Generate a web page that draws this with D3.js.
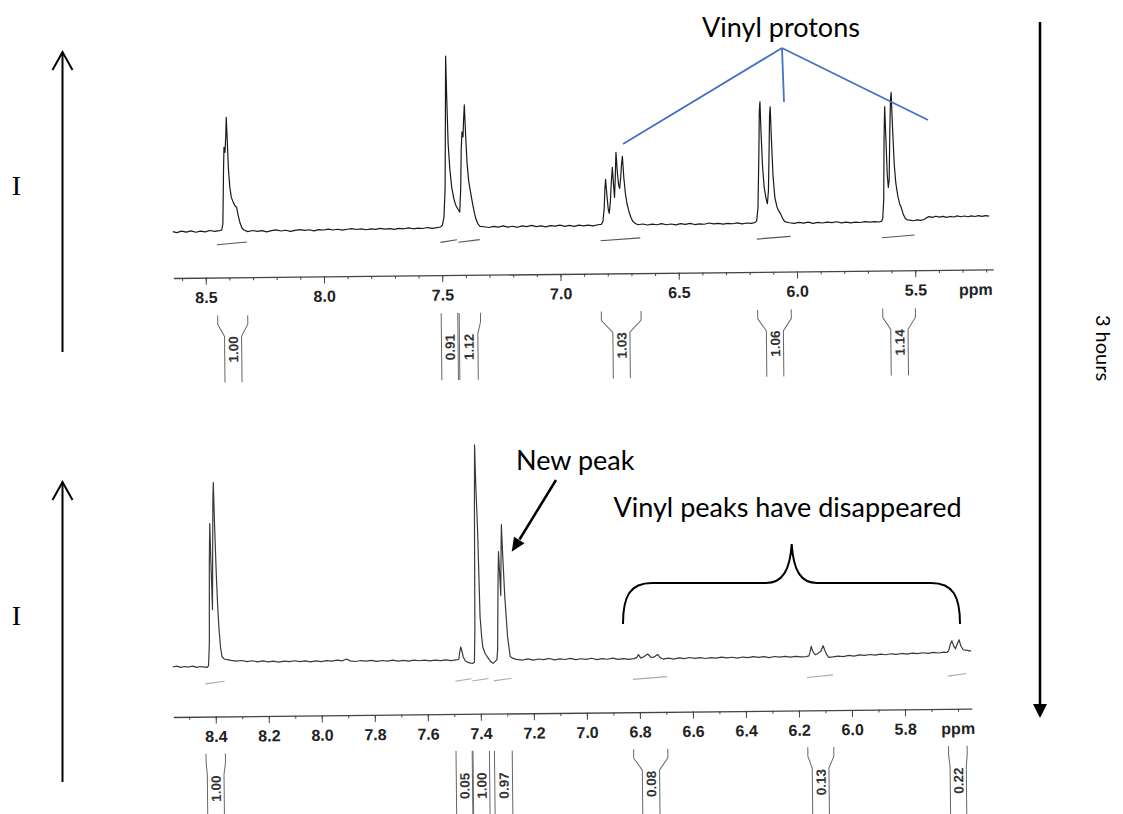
<!DOCTYPE html>
<html lang="en">
<head>
<meta charset="UTF-8">
<title>1H NMR before and after 3 hours</title>
<script src="https://d3js.org/d3.v7.min.js"></script>
<style>
  body { margin: 0; background: #fff; }
  svg { display: block; }
  .trace { fill: none; stroke-linejoin: round; }
  .axis path, .axis line { stroke: #444; }
  .axis text { font-family: "Liberation Sans", Arial, sans-serif; font-weight: bold; font-size: 16px; fill: #222; }
  .box { fill: none; stroke: #666; stroke-width: 1; }
  .boxlabel { font-family: "Liberation Sans", Arial, sans-serif; font-weight: bold; font-size: 13.5px; fill: #333; }
  .note { font-family: Lato, "Open Sans", sans-serif; fill: #000; }
</style>
</head>
<body>
<svg id="chart" width="1123" height="814"></svg>
<script>
// ---- spectrum before (ppm, intensity) ----
const topTrace = [
  [8.637,0.4],[8.62,-0.6],[8.60,0.8],[8.58,-0.3],[8.56,1.0],[8.54,-0.5],[8.52,0.6],[8.50,-0.2],[8.48,1.1],[8.46,0.2],[8.44,0.9],[8.43,1.5],
  [8.425,8],[8.42,60],[8.417,84],[8.413,79],[8.409,95],[8.406,114],[8.403,92],[8.399,62],[8.394,44],[8.388,34],[8.380,29],[8.372,25],[8.366,24],[8.360,16],[8.352,8],[8.344,3],[8.336,1.2],
  [8.32,-0.4],[8.30,0.7],[8.28,-0.2],[8.26,0.5],[8.24,-0.8],[8.22,0.4],[8.20,1.0],[8.18,-0.1],[8.16,0.6],[8.14,-0.6],[8.12,0.3],[8.10,1.1],[8.08,0.2],[8.06,0.8],[8.04,-0.3],[8.02,0.9],[8.00,0.4],[7.98,1.3],[7.96,0.3],[7.94,1.0],[7.92,0.1],[7.90,0.9],[7.88,1.5],[7.86,0.6],[7.84,1.2],[7.82,0.2],[7.80,1.0],[7.78,0.5],[7.76,1.4],[7.74,0.6],[7.72,1.1],[7.70,0.3],[7.68,1.2],[7.66,0.8],[7.64,1.6],[7.62,0.7],[7.60,1.3],[7.58,0.9],[7.56,1.8],[7.54,1.0],[7.52,1.6],[7.505,2.2],
  [7.497,4],[7.490,12],[7.484,40],[7.479,120],[7.476,173],[7.473,130],[7.469,85],[7.463,60],[7.456,42],[7.448,31],[7.440,24],[7.431,20],[7.423,17],[7.418,40],[7.414,80],[7.410,97],[7.406,92],[7.403,108],[7.399,124],[7.395,95],[7.390,66],[7.384,48],[7.376,36],[7.369,26],[7.362,17],[7.355,10],[7.347,5],[7.338,2.5],
  [7.32,2.0],[7.30,1.2],[7.28,2.3],[7.26,1.5],[7.24,2.6],[7.22,1.4],[7.20,2.2],[7.18,1.1],[7.16,2.4],[7.14,1.7],[7.12,2.8],[7.10,1.6],[7.08,2.3],[7.06,1.3],[7.04,2.5],[7.02,1.8],[7.00,2.9],[6.98,1.6],[6.96,2.4],[6.94,1.5],[6.92,2.7],[6.90,1.9],[6.88,2.6],[6.86,1.7],[6.84,2.8],[6.825,3.2],
  [6.818,6],[6.812,20],[6.808,40],[6.805,48],[6.801,35],[6.795,18],[6.791,14],[6.786,25],[6.781,45],[6.776,60],[6.772,44],[6.768,30],[6.764,50],[6.760,75],[6.755,55],[6.750,42],[6.746,39],[6.741,50],[6.737,63],[6.733,71],[6.728,50],[6.722,34],[6.716,24],[6.708,16],[6.700,10],[6.692,6],[6.683,4],
  [6.67,2.4],[6.65,3.1],[6.63,2.0],[6.61,2.9],[6.59,2.2],[6.57,3.3],[6.55,2.1],[6.53,2.8],[6.51,1.9],[6.49,3.0],[6.47,2.3],[6.45,3.2],[6.43,2.0],[6.41,2.7],[6.39,2.2],[6.37,3.4],[6.35,2.4],[6.33,3.0],[6.31,2.1],[6.29,2.9],[6.27,2.4],[6.25,3.3],[6.23,2.2],[6.21,3.0],[6.19,2.5],[6.175,3.4],
  [6.168,5],[6.162,18],[6.156,70],[6.152,115],[6.149,124],[6.146,95],[6.141,60],[6.135,39],[6.128,28],[6.122,22],[6.117,35],[6.112,80],[6.109,110],[6.106,119],[6.102,85],[6.097,50],[6.090,28],[6.082,19],[6.075,15],[6.067,12],[6.058,7],[6.049,4],
  [6.03,2.8],[6.01,2.1],[5.99,3.0],[5.97,2.3],[5.95,3.2],[5.93,2.0],[5.91,2.8],[5.89,2.2],[5.87,3.1],[5.85,2.4],[5.83,3.3],[5.81,2.2],[5.79,2.9],[5.77,2.0],[5.75,2.7],[5.73,2.3],[5.71,3.2],[5.69,2.5],[5.67,3.0],[5.65,2.6],[5.64,3.4],
  [5.635,6],[5.630,25],[5.626,85],[5.622,118],[5.618,85],[5.614,50],[5.610,37],[5.606,45],[5.601,95],[5.597,125],[5.594,132],[5.590,100],[5.584,60],[5.578,41],[5.570,28],[5.562,20],[5.557,17.5],[5.548,10],[5.540,6],[5.532,4.5],
  [5.52,4.2],[5.505,3.5],[5.49,4.4],[5.475,3.8],[5.46,4.6],[5.448,6.5],[5.44,7.5],[5.425,6.7],[5.41,7.8],[5.395,6.9],[5.38,7.6],[5.365,6.5],[5.35,7.4],[5.335,6.8],[5.32,7.9],[5.305,7.0],[5.29,7.7],[5.275,6.9],[5.26,7.8],[5.245,7.1],[5.23,8.0],[5.215,7.2],[5.20,7.9],[5.185,7.3]
];

// ---- spectrum after 3 hours (ppm, intensity) ----
const botTrace = [
  [8.56,-4],[8.545,-3.2],[8.53,-4.5],[8.515,-3.6],[8.50,-4.2],[8.485,-3.3],[8.47,-4.6],[8.455,-3.8],[8.44,-4.4],[8.43,-4.8],[8.425,-3],
  [8.421,20],[8.418,100],[8.415,139],[8.412,100],[8.408,53],[8.405,110],[8.402,165],[8.400,180],[8.397,140],[8.392,86],[8.388,55],[8.384,33],[8.379,15],[8.374,6],[8.366,3.5],[8.358,3],
  [8.34,2.0],[8.32,1.2],[8.30,1.8],[8.28,0.6],[8.26,1.4],[8.24,0.3],[8.22,1.1],[8.20,0.2],[8.18,0.9],[8.16,-0.2],[8.14,0.7],[8.12,0.1],[8.10,1.0],[8.08,0.0],[8.06,0.8],[8.04,-0.3],[8.02,0.6],[8.00,-0.1],[7.98,0.7],[7.96,0.2],[7.94,1.1],[7.92,0.4],[7.905,2.2],[7.89,0.3],[7.87,-0.4],[7.85,0.5],[7.83,-0.2],[7.81,0.6],[7.79,-0.5],[7.77,0.3],[7.75,-0.3],[7.73,0.5],[7.71,-0.4],[7.69,0.2],[7.67,-0.6],[7.65,0.4],[7.63,-0.3],[7.61,0.3],[7.59,-0.5],[7.57,0.2],[7.55,-0.4],[7.53,0.3],[7.51,-0.6],[7.49,0.2],
  [7.481,0.5],[7.477,8],[7.473,13],[7.469,9],[7.464,3],[7.456,-1],[7.446,-2.5],[7.436,-3.2],[7.428,-3.5],[7.422,-2.5],
  [7.419,30],[7.416,150],[7.413,215],[7.410,175],[7.405,130],[7.399,43],[7.394,24],[7.390,13],[7.381,6],[7.371,2],[7.362,-1.5],[7.352,-3.6],[7.344,-2],[7.337,0],
  [7.334,10],[7.330,75],[7.327,108],[7.324,90],[7.320,64],[7.317,110],[7.315,135],[7.312,110],[7.305,63],[7.296,23],[7.287,3],[7.276,1],[7.264,0],
  [7.24,-0.7],[7.22,0.4],[7.20,-0.9],[7.18,0.2],[7.16,-0.5],[7.14,0.6],[7.12,-0.8],[7.10,0.1],[7.08,-0.6],[7.06,0.5],[7.04,-0.9],[7.02,0.0],[7.00,-0.7],[6.98,0.4],[6.96,-1.0],[6.94,-0.1],[6.92,-0.8],[6.90,0.2],[6.88,-1.1],[6.86,-0.3],[6.84,-1.2],[6.82,-0.5],
  [6.81,0.5],[6.803,3.5],[6.795,0.2],[6.785,1.0],[6.768,4.0],[6.755,0.5],[6.745,0.8],[6.731,3.5],[6.72,0.0],[6.71,-1.2],
  [6.69,-0.4],[6.67,-1.3],[6.65,-0.2],[6.63,-1.0],[6.61,0.1],[6.59,-0.9],[6.57,-0.1],[6.55,-1.1],[6.53,-0.3],[6.51,-0.8],[6.49,0.2],[6.47,-0.7],[6.45,-0.1],[6.43,-1.0],[6.41,0.0],[6.39,-0.6],[6.37,0.3],[6.35,-0.5],[6.33,0.1],[6.31,-0.8],[6.29,0.2],[6.27,-0.4],[6.25,0.3],[6.23,-0.6],[6.21,0.1],[6.19,-0.5],[6.17,-0.2],
  [6.16,0.5],[6.155,5],[6.151,10],[6.147,6],[6.14,2.5],[6.135,1.5],[6.128,2.5],[6.115,5],[6.106,10.5],[6.100,6],[6.093,1.5],[6.085,-1.2],
  [6.07,-0.8],[6.05,0.0],[6.03,-0.6],[6.01,0.5],[5.99,-0.2],[5.97,0.9],[5.95,0.3],[5.93,1.2],[5.91,0.5],[5.89,1.4],[5.87,0.8],[5.85,1.7],[5.83,1.0],[5.81,1.9],[5.79,1.2],[5.77,2.1],[5.75,1.5],[5.73,2.4],[5.71,1.8],[5.69,2.6],[5.67,2.0],[5.65,2.8],[5.64,2.4],
  [5.633,4],[5.627,10],[5.620,14],[5.614,9],[5.607,6],[5.600,11],[5.593,15],[5.587,9],[5.578,5],[5.568,4.5],[5.558,4],[5.548,3.5]
];

// ---- integrals: label, outer range, inner (label box) range ----
const topIntLabels = ["1.00", "0.91", "1.12", "1.03", "1.06", "1.14"];
const topIntOuter  = [[8.451, 8.324], [7.506, 7.436], [7.430, 7.340], [6.829, 6.661], [6.168, 6.026], [5.639, 5.501]];
const topIntInner  = [[8.423, 8.351], [7.506, 7.436], [7.430, 7.352], [6.781, 6.709], [6.132, 6.060], [5.606, 5.533]];

const botIntLabels = ["1.00", "0.05", "1.00", "0.97", "0.08", "0.13", "0.22"];
const botIntOuter  = [[8.438, 8.365], [7.495, 7.434], [7.431, 7.369], [7.350, 7.283], [6.825, 6.696], [6.168, 6.070], [5.637, 5.567]];
const botIntInner  = [[8.434, 8.371], [7.495, 7.434], [7.431, 7.369], [7.350, 7.283], [6.793, 6.728], [6.152, 6.089], [5.632, 5.571]];

// ---- axes ----
const topMajor = [8.5, 8.0, 7.5, 7.0, 6.5, 6.0, 5.5];
const botMajor = [8.4, 8.2, 8.0, 7.8, 7.6, 7.4, 7.2, 7.0, 6.8, 6.6, 6.4, 6.2, 6.0, 5.8];

const svg = d3.select("#chart");
svg.append("rect").attr("width", 1123).attr("height", 814).attr("fill", "#fff");

function drawPanel(o) {
  const g = svg.append("g").attr("transform", `rotate(-0.6, ${o.x.range()[0]}, ${o.axisY})`);
  const x = o.x, y = o.y;

  g.append("path").datum(o.trace).attr("class", "trace")
    .attr("stroke", o.color).attr("stroke-width", 1.2)
    .attr("d", d3.line().x(d => x(d[0])).y(d => y(d[1])));

  // integral traces under peaks
  o.outer.forEach(r => {
    g.append("line")
      .attr("x1", x(r[0])).attr("x2", x(r[1]))
      .attr("y1", y(0) + o.intOff + 1.2).attr("y2", y(0) + o.intOff - 1.2)
      .attr("stroke", o.intColor).attr("stroke-width", 1.1);
  });

  // axis
  const minor = d3.range(Math.ceil(x.domain()[1] * 10), Math.floor(x.domain()[0] * 10) + 1).map(v => v / 10);
  g.append("g").attr("class", "axis").attr("transform", `translate(0,${o.axisY})`)
    .call(d3.axisBottom(x).tickValues(minor).tickSize(3).tickSizeOuter(0).tickFormat(""))
    .call(a => a.select(".domain").attr("stroke-width", 1.3));
  g.append("g").attr("class", "axis").attr("transform", `translate(0,${o.axisY})`)
    .call(d3.axisBottom(x).tickValues(o.major).tickSize(7).tickSizeOuter(0).tickPadding(o.pad).tickFormat(d3.format(".1f")))
    .call(a => a.select(".domain").remove());
  g.append("text")
    .attr("x", x(o.ppmAt)).attr("y", o.axisY + 7 + o.pad).attr("dy", "0.71em")
    .attr("text-anchor", "middle")
    .style("font-family", "'Liberation Sans', Arial, sans-serif").style("font-weight", "bold")
    .style("font-size", "16px").attr("fill", "#222").text("ppm");

  // integral boxes
  const t = o.boxTop, b = o.boxBottom;
  o.labels.forEach((lab, i) => {
    const [a0, a1] = o.outer[i].map(x), [b0, b1] = o.inner[i].map(x);
    g.append("path").attr("class", "box")
      .attr("d", `M${a0},${t} L${a0},${t + 9} L${b0},${t + 21} L${b0},${b}`);
    g.append("path").attr("class", "box")
      .attr("d", `M${a1},${t} L${a1},${t + 9} L${b1},${t + 21} L${b1},${b}`);
    g.append("text").attr("class", "boxlabel")
      .attr("transform", `translate(${(b0 + b1) / 2 + 0.5},${o.labelY}) rotate(-90)`)
      .attr("text-anchor", "middle").attr("dominant-baseline", "central")
      .text(lab);
  });
}

drawPanel({
  trace: topTrace, color: "#1a1a1a", intColor: "#555", intOff: 12,
  x: d3.scaleLinear().domain([8.637, 5.17]).range([173.3, 993.3]),
  y: d3.scaleLinear().domain([0, 180]).range([232, 52]),
  axisY: 278, major: topMajor, pad: 7, ppmAt: 5.245,
  labels: topIntLabels, outer: topIntOuter, inner: topIntInner,
  boxTop: 316, boxBottom: 383, labelY: 350
});

drawPanel({
  trace: botTrace, color: "#3a3a3a", intColor: "#aaa", intOff: 20,
  x: d3.scaleLinear().domain([8.56, 5.548]).range([173.3, 971.8]),
  y: d3.scaleLinear().domain([0, 220]).range([663, 443]),
  axisY: 717, major: botMajor, pad: 7, ppmAt: 5.6,
  labels: botIntLabels, outer: botIntOuter, inner: botIntInner,
  boxTop: 754, boxBottom: 830, labelY: 789
});

// ---- annotations ----
const ann = svg.append("g");

// intensity arrows on the left
[0, 430].forEach(dy => {
  ann.append("line").attr("x1", 62.5).attr("x2", 62.5).attr("y1", 352 + dy).attr("y2", 52 + dy)
    .attr("stroke", "#000").attr("stroke-width", 2);
  ann.append("path").attr("d", `M52.5,${70 + dy} L62.5,${52 + dy} L72.5,${70 + dy}`)
    .attr("fill", "none").attr("stroke", "#000").attr("stroke-width", 2);
  ann.append("text").attr("x", 16.5).attr("y", 195 + dy).attr("text-anchor", "middle")
    .style("font-family", "'Liberation Serif', 'Times New Roman', serif").style("font-size", "28px")
    .text("I");
});

// time arrow
ann.append("line").attr("x1", 1040).attr("x2", 1040).attr("y1", 22).attr("y2", 706)
  .attr("stroke", "#000").attr("stroke-width", 2.5);
ann.append("path").attr("d", "M1033,704 L1047,704 L1040,718 Z").attr("fill", "#000");
ann.append("text").attr("class", "note")
  .attr("transform", "translate(1104,348) rotate(90)")
  .attr("text-anchor", "middle").attr("dominant-baseline", "central")
  .style("font-size", "20px").text("3 hours");

// vinyl protons label and pointers
ann.append("text").attr("class", "note").attr("x", 781).attr("y", 37)
  .attr("text-anchor", "middle").style("font-size", "27px").text("Vinyl protons");
[[623, 144], [784, 102], [928, 120]].forEach(p => {
  ann.append("line").attr("x1", 782).attr("y1", 48).attr("x2", p[0]).attr("y2", p[1])
    .attr("stroke", "#4472C4").attr("stroke-width", 1.8);
});

// new peak
ann.append("text").attr("class", "note").attr("x", 516).attr("y", 470)
  .style("font-size", "27px").text("New peak");
ann.append("line").attr("x1", 556).attr("y1", 480).attr("x2", 519.5).attr("y2", 539.5)
  .attr("stroke", "#000").attr("stroke-width", 2.5);
ann.append("path").attr("d", "M511.7,551.7 L524.5,543.2 L514,536.8 Z").attr("fill", "#000");

// vinyl peaks gone
ann.append("text").attr("class", "note").attr("x", 787.5).attr("y", 517)
  .attr("text-anchor", "middle").style("font-size", "27px").text("Vinyl peaks have disappeared");
ann.append("path")
  .attr("d", "M623,624 C623,596 630,583 652,583 L766,583 C782,583 790,571 791.7,544 C793.4,571 801,583 817,583 L931,583 C953,583 960,596 960,624")
  .attr("fill", "none").attr("stroke", "#000").attr("stroke-width", 2);
</script>
</body>
</html>
